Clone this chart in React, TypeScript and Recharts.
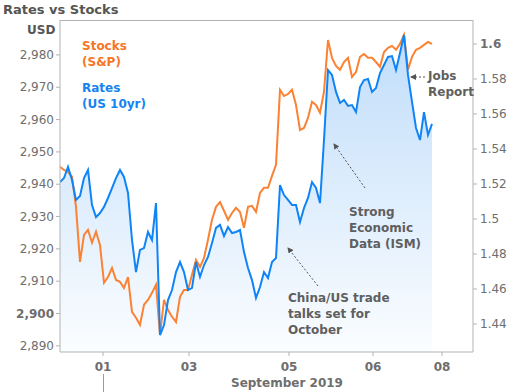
import React from 'react'
import { Area, ComposedChart, Line, XAxis, YAxis } from 'recharts'

// S&P level, sampled along the trading week
const stocks = [
  2945.4, 2944.4, 2943.8, 2942.3, 2933.0, 2916.0, 2924.3, 2925.9, 2921.9, 2925.3,
  2921.2, 2909.5, 2911.3, 2914.1, 2910.4, 2909.8, 2907.9, 2911.3, 2900.5, 2898.7,
  2896.5, 2902.7, 2904.2, 2906.4, 2908.9, 2893.4, 2904.2, 2901.1, 2899.0, 2897.4,
  2905.2, 2907.3, 2907.3, 2912.0, 2916.6, 2914.4, 2917.2, 2922.8, 2929.0, 2933.0,
  2934.5, 2931.8, 2929.0, 2931.1, 2932.7, 2931.4, 2926.5, 2933.0, 2933.3, 2931.4,
  2937.3, 2938.9, 2938.9, 2942.6, 2946.0, 2969.2, 2967.3, 2967.9, 2969.2, 2964.5,
  2956.8, 2957.4, 2960.5, 2965.5, 2964.5, 2962.1, 2968.6, 2984.6, 2979.1, 2976.6,
  2975.4, 2977.8, 2979.1, 2973.2, 2974.7, 2979.4, 2980.3, 2979.1, 2979.1, 2977.8,
  2976.3, 2980.9, 2982.2, 2982.8, 2981.6, 2983.4, 2986.2, 2975.4, 2979.4, 2981.6,
  2982.2, 2983.1, 2984.0, 2983.4,
]

// US 10yr yield, same samples
const rates = [
  1.5211, 1.5234, 1.5297, 1.5223, 1.5109, 1.5131, 1.5234, 1.528, 1.508, 1.5011,
  1.5034, 1.5069, 1.512, 1.5177, 1.5234, 1.528, 1.524, 1.5149, 1.488, 1.4697,
  1.4823, 1.4834, 1.4926, 1.488, 1.5091, 1.4337, 1.4394, 1.4537, 1.4594, 1.4697,
  1.4754, 1.4697, 1.4594, 1.4606, 1.4754, 1.4669, 1.4737, 1.4783, 1.4863, 1.4949,
  1.4966, 1.4903, 1.4954, 1.492, 1.4926, 1.4937, 1.4811, 1.472, 1.4651, 1.4549,
  1.4611, 1.4697, 1.4663, 1.4754, 1.4777, 1.5194, 1.5137, 1.5109, 1.508, 1.508,
  1.4983, 1.5063, 1.512, 1.5211, 1.5177, 1.5091, 1.5451, 1.5851, 1.5823, 1.5726,
  1.5663, 1.568, 1.5646, 1.5651, 1.5611, 1.5754, 1.5794, 1.58, 1.5726, 1.5749,
  1.5834, 1.588, 1.5926, 1.5931, 1.5851, 1.5949, 1.6051, 1.5823, 1.5669, 1.552,
  1.5451, 1.5611, 1.548, 1.5543,
]

const dayTicks = [10.75, 32.25, 57.25, 78.25, 95.5]
const dayLabels = ['01', '03', '05', '06', '08']
const stockTicks = [2890, 2900, 2910, 2920, 2930, 2940, 2950, 2960, 2970, 2980]
const rateTicks = [1.44, 1.46, 1.48, 1.5, 1.52, 1.54, 1.56, 1.58, 1.6]

const data = stocks.map((s, i) => ({ t: i, stocks: s, rates: rates[i] }))

const FONT = "'DejaVu Sans', Verdana, sans-serif"
const GREY = '#6e6e6e'
const ORANGE = '#fb8233'
const BLUE = '#0f84f7'

function LeftTick({ x, y, payload }: any) {
  const v = payload.value
  return (
    <text x={x} y={y} dy={4} textAnchor="end" fill={GREY} fontSize={12} fontFamily={FONT} fontWeight={v === 2900 ? 'bold' : 'normal'}>
      {v.toLocaleString('en-US')}
    </text>
  )
}

function RightTick({ x, y, payload }: any) {
  const v = payload.value
  return (
    <text x={x} y={y} dy={4} textAnchor="start" fill={GREY} fontSize={12} fontFamily={FONT} fontWeight={v === 1.6 ? 'bold' : 'normal'}>
      {String(Number(v.toFixed(2)))}
    </text>
  )
}

function DayTick({ x, y, payload, index }: any) {
  return (
    <text x={x} y={y} dy={11} textAnchor="middle" fill={GREY} fontSize={12} fontFamily={FONT} fontWeight="bold">
      {dayLabels[index] ?? ''}
    </text>
  )
}

function Notes() {
  const txt = { fill: '#5f5f5f', fontSize: 12, fontFamily: FONT, fontWeight: 'bold' as const }
  const arrow = { stroke: '#555', strokeWidth: 1, strokeDasharray: '2 2', markerEnd: 'url(#head)' }
  return (
    <svg width={512} height={392} style={{ position: 'absolute', left: 0, top: 0, pointerEvents: 'none' }}>
      <defs>
        <marker id="head" markerWidth="6" markerHeight="6" refX="5" refY="3" orient="auto">
          <path d="M0,0 L6,3 L0,6 z" fill="#555" />
        </marker>
      </defs>
      <line x1={60} y1={20.5} x2={473} y2={20.5} stroke="#b3b3b3" />
      <text x={3} y={14} fill="#555" fontSize={13} fontFamily={FONT} fontWeight="bold">Rates vs Stocks</text>
      <text x={27} y={34} fill="#555" fontSize={12} fontFamily={FONT} fontWeight="bold">USD</text>
      <text x={82} y={50} fill="#f7761f" fontSize={12} fontFamily={FONT} fontWeight="bold">Stocks</text>
      <text x={82} y={66} fill="#f7761f" fontSize={12} fontFamily={FONT} fontWeight="bold">(S&amp;P)</text>
      <text x={82} y={92} fill="#1583f2" fontSize={12} fontFamily={FONT} fontWeight="bold">Rates</text>
      <text x={82} y={108} fill="#1583f2" fontSize={12} fontFamily={FONT} fontWeight="bold">(US 10yr)</text>

      <line x1={365} y1={188} x2={334} y2={144} {...arrow} />
      <text x={349} y={216} {...txt}>Strong</text>
      <text x={349} y={232} {...txt}>Economic</text>
      <text x={349} y={248} {...txt}>Data (ISM)</text>

      <line x1={318} y1={286} x2={288} y2={248} {...arrow} />
      <text x={288} y={302} {...txt}>China/US trade</text>
      <text x={288} y={318} {...txt}>talks set for</text>
      <text x={288} y={334} {...txt}>October</text>

      <line x1={425} y1={77} x2={411} y2={77} {...arrow} />
      <text x={428} y={80} {...txt}>Jobs</text>
      <text x={428} y={96} {...txt}>Report</text>

      <line x1={103.5} y1={374} x2={103.5} y2={392} stroke="#999" />
      <text x={287} y={387} textAnchor="middle" fill={GREY} fontSize={12} fontFamily={FONT} fontWeight="bold">September 2019</text>
    </svg>
  )
}

export default function App() {
  return (
    <div style={{ position: 'absolute', left: 0, top: 0, width: 512, height: 392, background: '#fff' }}>
      <ComposedChart width={512} height={392} data={data} margin={{ top: 20, right: 0, bottom: 0, left: 0 }}>
        <defs>
          <linearGradient id="rateFill" x1="0" y1="0" x2="0" y2="1">
            <stop offset="0%" stopColor="#2f8ff0" stopOpacity={0.3} />
            <stop offset="100%" stopColor="#2f8ff0" stopOpacity={0.02} />
          </linearGradient>
        </defs>
        <XAxis
          dataKey="t"
          type="number"
          domain={[0, 103.25]}
          ticks={dayTicks}
          tick={<DayTick />}
          height={40}
          tickSize={4}
          tickMargin={4}
          stroke="#b3b3b3"
          allowDataOverflow
        />
        <YAxis
          yAxisId="left"
          orientation="left"
          width={60}
          domain={[2888.1, 2990.8]}
          ticks={stockTicks}
          tick={<LeftTick />}
          tickSize={4}
          tickMargin={2}
          stroke="#b3b3b3"
          allowDataOverflow
        />
        <YAxis
          yAxisId="right"
          orientation="right"
          width={39}
          domain={[1.424, 1.6137]}
          ticks={rateTicks}
          tick={<RightTick />}
          tickSize={4}
          tickMargin={3}
          stroke="#b3b3b3"
          allowDataOverflow
        />
        <Area
          yAxisId="right"
          dataKey="rates"
          type="linear"
          stroke="none"
          fill="url(#rateFill)"
          fillOpacity={1}
          baseValue={1.424}
          isAnimationActive={false}
        />
        <Line yAxisId="left" dataKey="stocks" type="linear" stroke={ORANGE} strokeWidth={2} dot={false} isAnimationActive={false} />
        <Line yAxisId="right" dataKey="rates" type="linear" stroke={BLUE} strokeWidth={2} dot={false} isAnimationActive={false} />
      </ComposedChart>
      <Notes />
    </div>
  )
}
